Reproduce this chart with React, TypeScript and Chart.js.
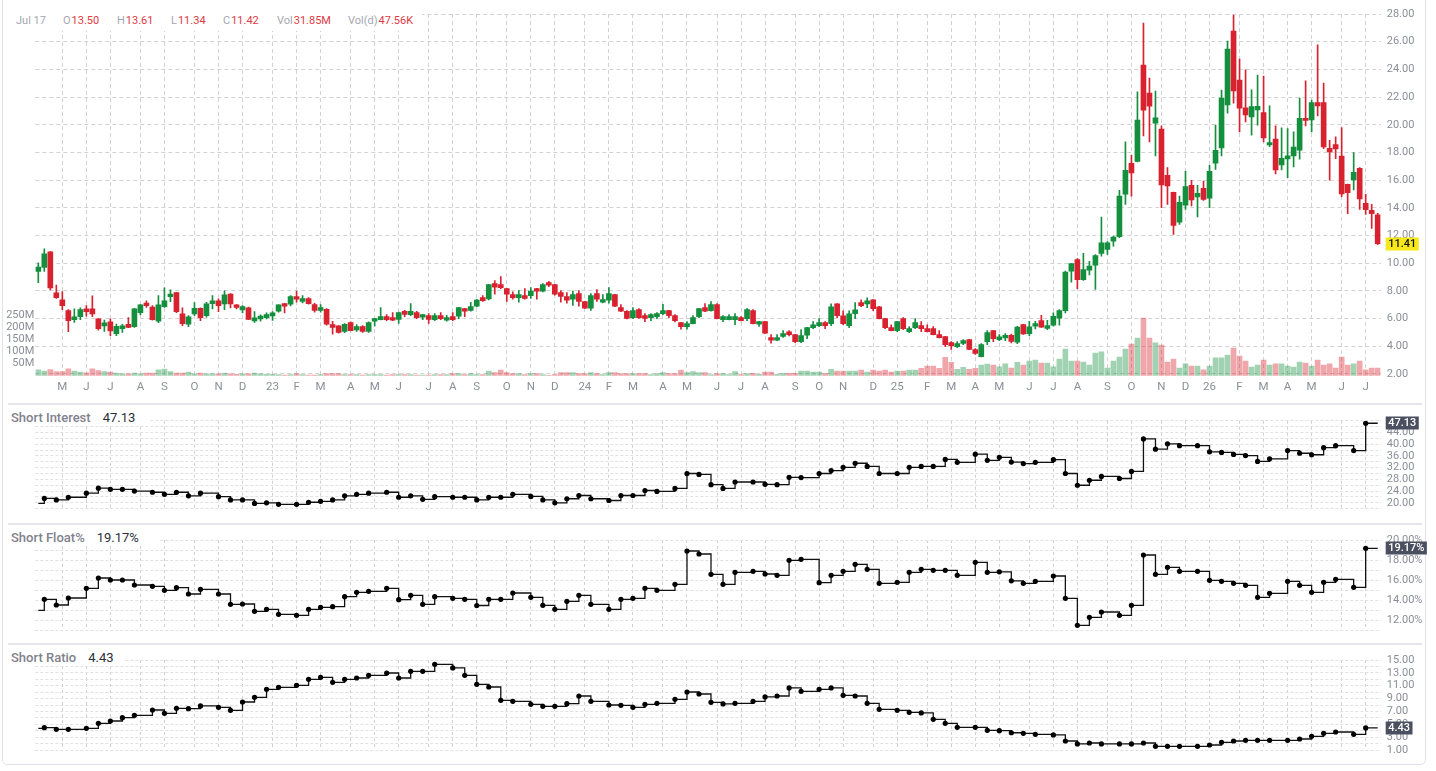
import React, { useEffect, useRef } from 'react';
import { Chart, registerables } from 'chart.js';

Chart.register(...registerables);

const FONT = "Roboto, 'Noto Sans', sans-serif";
Chart.defaults.font.family = FONT;

// ---------- categories (weekly bars, dated by Friday) ----------
const FIRST_WEEK_UTC = Date.UTC(2022, 3, 8);
const WEEK_COUNT = 224;
const WEEKS: string[] = Array.from({ length: WEEK_COUNT }, (_, i) =>
  new Date(FIRST_WEEK_UTC + i * 7 * 86400000).toISOString().slice(0, 10)
);
const MONTH_LETTERS = ['J', 'F', 'M', 'A', 'M', 'J', 'J', 'A', 'S', 'O', 'N', 'D'];

// ---------- price (weekly OHLC) ----------
const OPEN = [
  9.40, 9.69, 10.82, 7.86, 7.35, 6.58, 5.93, 6.14, 6.70, 6.70,
  5.98, 5.47, 5.76, 4.92, 5.28, 5.59, 5.42, 6.43, 7.13, 6.84,
  5.81, 6.87, 7.59, 7.88, 6.34, 5.59, 6.34, 6.75, 6.22, 7.08,
  7.28, 7.06, 7.78, 6.99, 6.63, 6.77, 5.83, 5.98, 6.07, 6.20,
  6.53, 7.08, 7.04, 7.59, 7.25, 7.45, 7.01, 6.60, 6.67, 5.57,
  5.47, 5.08, 5.71, 5.18, 5.42, 5.08, 5.81, 5.93, 6.14, 6.07,
  5.95, 6.53, 6.29, 6.43, 6.10, 6.22, 5.93, 6.22, 5.88, 6.14,
  6.17, 6.72, 6.60, 6.89, 7.52, 7.42, 8.53, 8.46, 8.17, 7.73,
  7.52, 7.66, 7.66, 8.17, 7.98, 8.60, 8.46, 7.88, 7.59, 7.40,
  7.81, 7.23, 6.75, 7.81, 7.18, 7.33, 7.73, 6.80, 6.53, 6.07,
  6.65, 6.22, 6.07, 6.14, 6.36, 6.58, 6.22, 5.71, 5.42, 5.64,
  6.14, 6.80, 6.58, 7.01, 5.93, 5.93, 5.93, 6.07, 6.00, 6.58,
  5.59, 5.78, 4.63, 4.44, 4.72, 5.04, 4.84, 4.34, 4.80, 5.35,
  5.49, 5.71, 5.64, 7.07, 6.21, 5.49, 6.35, 7.15, 7.07, 7.36,
  6.86, 6.00, 5.35, 5.13, 6.00, 5.06, 5.35, 5.49, 5.28, 5.28,
  4.84, 4.70, 4.27, 3.98, 4.20, 4.48, 3.77, 3.26, 4.34, 5.13,
  4.48, 4.60, 4.80, 4.29, 5.57, 4.92, 5.45, 5.86, 5.30, 5.52,
  6.03, 6.58, 9.43, 10.27, 8.82, 9.50, 9.86, 10.71, 11.00, 11.60,
  11.91, 14.98, 17.22, 17.36, 24.31, 22.28, 20.11, 19.68, 16.35, 15.12,
  12.97, 14.20, 15.63, 14.78, 15.41, 14.69, 17.22, 18.33, 21.44, 26.77,
  23.22, 21.22, 20.57, 21.08, 20.88, 18.55, 18.96, 17.10, 17.53, 17.75,
  18.16, 20.47, 20.35, 21.61, 21.61, 18.30, 18.57, 17.73, 15.70, 16.01,
  16.86, 14.32, 13.82, 13.50,
];
const HIGH = [
  10.02, 11.04, 10.85, 8.43, 7.95, 6.65, 6.70, 6.77, 6.94, 7.64,
  6.00, 5.90, 5.98, 5.61, 5.59, 6.07, 6.75, 7.04, 7.28, 6.94,
  7.66, 8.22, 8.07, 7.90, 6.77, 6.22, 7.16, 6.77, 7.18, 7.66,
  7.42, 8.00, 7.80, 7.01, 6.94, 6.84, 6.51, 6.27, 6.41, 6.50,
  7.01, 7.10, 7.66, 7.98, 7.66, 7.52, 7.11, 7.01, 6.72, 5.81,
  5.49, 5.64, 5.76, 5.57, 5.49, 5.76, 6.02, 6.80, 6.29, 6.43,
  6.48, 6.60, 7.08, 6.53, 6.31, 6.36, 6.36, 6.43, 6.24, 6.43,
  6.82, 6.74, 7.18, 7.40, 7.66, 8.48, 8.75, 9.04, 8.19, 7.93,
  8.02, 8.17, 8.24, 8.19, 8.53, 8.70, 8.48, 8.02, 7.88, 7.98,
  8.02, 7.25, 7.81, 8.10, 7.73, 8.24, 7.75, 7.01, 6.58, 6.80,
  6.72, 6.36, 6.36, 6.43, 7.04, 6.60, 6.29, 5.73, 5.78, 6.22,
  6.74, 7.08, 7.23, 7.08, 6.22, 6.29, 6.36, 6.14, 6.72, 6.65,
  5.80, 5.80, 4.84, 4.84, 5.13, 5.13, 4.86, 5.20, 5.37, 5.78,
  6.00, 5.78, 7.07, 7.09, 6.57, 6.57, 7.15, 7.36, 7.51, 7.38,
  6.88, 6.02, 5.56, 5.80, 6.07, 5.42, 6.00, 5.78, 5.56, 5.42,
  5.13, 4.72, 4.34, 4.34, 4.48, 4.50, 3.84, 4.20, 5.13, 5.15,
  4.84, 4.92, 4.89, 5.45, 5.59, 5.81, 5.81, 6.24, 5.88, 6.41,
  6.65, 9.43, 9.98, 10.34, 10.71, 10.13, 10.63, 13.33, 11.57, 11.96,
  15.26, 18.76, 17.80, 22.38, 27.35, 23.37, 22.43, 19.92, 16.90, 15.14,
  14.85, 16.64, 15.99, 15.63, 15.94, 17.07, 19.97, 22.50, 26.05, 27.93,
  24.74, 23.97, 22.52, 23.59, 23.51, 21.37, 19.92, 19.78, 19.73, 19.49,
  21.92, 23.18, 21.78, 25.78, 23.01, 18.88, 19.12, 19.80, 15.72, 17.99,
  16.90, 14.98, 14.25, 13.61,
];
const LOW = [
  8.60, 9.40, 8.07, 7.45, 6.65, 5.06, 5.73, 5.93, 6.17, 6.14,
  5.16, 5.08, 4.77, 4.77, 5.01, 5.35, 5.37, 6.27, 6.80, 5.88,
  5.71, 6.80, 7.23, 6.43, 5.49, 5.42, 6.22, 5.86, 6.10, 6.70,
  6.51, 6.65, 6.77, 6.70, 6.41, 5.93, 5.73, 5.81, 5.98, 5.87,
  6.46, 6.41, 6.92, 7.18, 7.13, 7.04, 6.46, 6.46, 5.52, 4.87,
  4.94, 4.99, 5.11, 5.08, 5.01, 5.01, 5.45, 5.91, 5.86, 5.86,
  5.66, 6.14, 6.22, 6.00, 5.93, 5.66, 5.86, 5.93, 5.81, 5.86,
  6.00, 6.14, 6.53, 6.84, 7.25, 7.35, 7.76, 8.17, 7.25, 7.40,
  7.18, 7.40, 7.45, 7.40, 7.93, 8.31, 7.69, 7.18, 7.11, 6.96,
  6.89, 6.73, 6.60, 7.25, 7.13, 7.11, 6.87, 6.51, 5.98, 6.00,
  6.02, 5.78, 5.86, 6.00, 6.29, 6.07, 5.76, 5.23, 5.23, 5.62,
  6.07, 6.51, 6.53, 5.98, 5.78, 5.91, 5.57, 5.84, 5.86, 5.62,
  5.44, 4.92, 4.22, 4.41, 4.65, 4.75, 4.27, 4.27, 4.56, 5.28,
  5.42, 5.28, 5.49, 6.07, 5.56, 5.35, 6.00, 6.86, 6.79, 6.57,
  5.98, 5.28, 5.11, 5.06, 5.20, 4.99, 5.28, 5.06, 5.04, 4.82,
  4.61, 3.98, 3.77, 3.91, 4.12, 3.75, 3.41, 3.24, 4.12, 4.34,
  4.41, 4.41, 4.24, 4.19, 4.85, 4.77, 5.26, 5.36, 5.21, 5.45,
  5.52, 6.41, 8.63, 8.17, 8.75, 9.16, 8.10, 10.51, 10.63, 11.24,
  11.84, 14.25, 14.85, 17.31, 19.20, 18.76, 17.75, 14.01, 14.25, 12.08,
  12.80, 13.89, 14.13, 13.34, 14.54, 14.01, 16.78, 17.75, 20.84, 21.56,
  19.49, 20.21, 19.24, 19.97, 18.76, 18.42, 16.45, 16.74, 16.18, 16.95,
  17.51, 19.92, 19.49, 20.64, 18.28, 15.99, 17.56, 14.81, 13.58, 15.29,
  13.89, 13.53, 12.52, 11.34,
];
const CLOSE = [
  9.73, 10.67, 8.22, 7.52, 6.94, 5.86, 6.12, 6.65, 6.51, 6.34,
  5.28, 5.69, 5.11, 5.45, 5.47, 5.37, 6.70, 6.99, 6.94, 5.93,
  6.99, 7.28, 7.78, 6.51, 5.64, 6.12, 6.75, 6.07, 7.06, 7.28,
  6.94, 7.71, 7.06, 6.80, 6.87, 5.95, 6.05, 6.19, 6.29, 6.42,
  6.99, 6.89, 7.59, 7.40, 7.45, 7.08, 6.60, 6.80, 5.59, 5.37,
  5.01, 5.59, 5.13, 5.42, 5.08, 5.71, 6.00, 6.14, 5.93, 5.88,
  6.43, 6.31, 6.53, 6.07, 6.29, 5.95, 6.22, 6.00, 6.07, 5.93,
  6.80, 6.53, 6.87, 7.33, 7.30, 8.46, 8.27, 8.24, 7.76, 7.52,
  7.73, 7.45, 7.98, 7.98, 8.46, 8.41, 7.76, 7.61, 7.33, 7.73,
  7.25, 6.75, 7.66, 7.40, 7.37, 7.81, 6.89, 6.53, 6.02, 6.58,
  6.07, 6.02, 6.29, 6.36, 6.58, 6.22, 5.86, 5.42, 5.64, 6.07,
  6.72, 6.53, 7.01, 6.00, 6.14, 6.14, 6.14, 5.86, 6.65, 5.64,
  5.78, 4.94, 4.44, 4.63, 4.92, 4.84, 4.34, 4.77, 5.35, 5.56,
  5.71, 5.49, 6.86, 6.21, 5.64, 6.35, 6.64, 6.93, 7.29, 6.71,
  6.00, 5.35, 5.13, 5.78, 5.28, 5.28, 5.71, 5.28, 5.06, 4.84,
  4.63, 4.12, 4.05, 4.20, 4.41, 3.77, 3.48, 4.12, 4.99, 4.56,
  4.68, 4.80, 4.36, 5.38, 4.89, 5.40, 5.64, 5.38, 5.50, 6.17,
  6.58, 9.36, 9.98, 8.82, 9.55, 9.79, 10.56, 11.48, 11.48, 11.89,
  14.85, 16.71, 16.52, 20.33, 21.05, 21.34, 20.50, 15.65, 15.58, 12.73,
  14.40, 15.53, 14.57, 15.05, 14.61, 16.64, 18.16, 21.92, 25.47, 22.45,
  21.20, 20.72, 21.32, 21.34, 19.05, 18.71, 16.74, 17.58, 17.75, 18.38,
  20.47, 20.31, 21.61, 21.37, 18.40, 18.04, 18.26, 15.00, 15.10, 16.57,
  14.64, 13.87, 13.58, 11.42,
];
// weekly volume, millions
const VOLUME = [
  24, 19, 26, 17, 17, 29, 19, 15, 12, 29, 21, 17, 15, 11, 8, 8, 11, 8, 11, 11,
  24, 28, 17, 11, 11, 15, 8, 11, 8, 8, 8, 11, 8, 6, 8, 8, 11, 8, 6, 6,
  5, 3, 5, 9, 5, 3, 3, 5, 9, 9, 9, 5, 5, 5, 3, 5, 5, 5, 3, 5,
  5, 5, 5, 3, 3, 3, 5, 5, 5, 9, 9, 5, 9, 5, 5, 19, 13, 23, 13, 9,
  9, 5, 9, 9, 5, 2, 5, 13, 13, 13, 9, 9, 13, 9, 5, 13, 13, 9, 9, 9,
  9, 9, 5, 9, 13, 9, 9, 23, 13, 17, 13, 13, 5, 9, 9, 5, 17, 5, 9, 10,
  6, 15, 15, 6, 10, 10, 10, 19, 19, 15, 15, 10, 27, 19, 19, 19, 19, 23, 15, 23,
  19, 23, 15, 19, 19, 23, 23, 31, 40, 40, 31, 77, 56, 27, 35, 27, 31, 44, 48, 44,
  37, 49, 32, 56, 44, 61, 65, 53, 53, 37, 69, 111, 61, 61, 57, 44, 94, 99, 32, 61,
  78, 111, 132, 157, 240, 157, 137, 128, 57, 69, 32, 49, 40, 40, 24, 40, 74, 74, 86, 115,
  82, 61, 36, 44, 65, 44, 49, 49, 40, 36, 57, 53, 40, 65, 44, 49, 32, 78, 44, 49,
  61, 24, 32, 32,
];
const LAST_PRICE_LABEL = 11.41;

// ---------- short data (report weeks = index into WEEKS) ----------
const SHORT_WEEKS = [
  1, 3, 5, 8, 10, 12, 14, 16, 19, 21, 23, 25, 27, 30, 32, 34, 36, 38, 40, 43,
  45, 47, 49, 51, 53, 55, 58, 60, 62, 64, 66, 69, 71, 73, 75, 77, 79, 82, 84, 86,
  88, 90, 92, 95, 97, 99, 101, 103, 106, 108, 110, 112, 114, 116, 119, 121, 123, 125, 127, 130,
  132, 134, 136, 138, 140, 143, 145, 147, 149, 151, 153, 156, 158, 160, 162, 164, 166, 169, 171, 173,
  175, 177, 180, 182, 184, 186, 188, 190, 193, 195, 197, 199, 201, 203, 205, 208, 210, 212, 214, 216,
  219, 221,
];
const SHORT_INTEREST = [
  21.5, 21.0, 21.9, 23.3, 25.0, 24.6, 24.6, 24.0, 23.6, 22.9, 23.6, 22.4, 23.3, 22.1, 21.0, 21.0, 19.8, 20.0, 19.5, 19.5,
  20.2, 20.5, 21.0, 22.4, 22.9, 23.3, 23.6, 21.9, 22.4, 21.2, 22.1, 21.9, 21.9, 21.0, 21.9, 21.9, 22.9, 22.2, 21.0, 20.0,
  21.4, 22.5, 21.4, 20.8, 22.5, 22.5, 24.2, 23.9, 24.9, 30.0, 29.7, 26.2, 24.9, 27.1, 27.1, 26.3, 26.2, 28.7, 28.6, 30.0,
  31.0, 32.1, 33.5, 32.4, 30.0, 30.0, 32.1, 32.4, 32.4, 34.8, 33.8, 36.6, 34.5, 35.5, 33.9, 33.4, 33.8, 34.7, 30.0, 26.0,
  27.7, 29.0, 28.3, 30.7, 41.8, 38.3, 40.1, 39.5, 39.5, 37.4, 37.2, 36.5, 36.1, 34.1, 35.0, 37.8, 36.9, 36.4, 38.8, 39.5,
  37.8, 47.13,
];
const SHORT_FLOAT = [
  14.07, 13.5, 14.2, 15.17, 16.2, 16.0, 16.0, 15.5, 15.37, 14.97, 15.23, 14.6, 15.07, 14.6, 13.57, 13.6, 12.87, 13.07, 12.57, 12.47,
  13.07, 13.27, 13.33, 14.33, 14.77, 14.87, 15.17, 14.03, 14.47, 13.57, 14.33, 14.17, 14.07, 13.45, 14.07, 14.07, 14.7, 14.27, 13.47, 13.07,
  13.87, 14.47, 13.57, 13.07, 14.07, 14.17, 15.17, 14.97, 15.57, 18.9, 18.6, 16.57, 15.57, 16.77, 16.87, 16.6, 16.47, 17.97, 18.07, 15.73,
  16.47, 16.87, 17.57, 17.07, 15.67, 15.77, 16.77, 17.07, 16.97, 16.97, 16.47, 17.77, 16.77, 16.82, 15.92, 15.67, 15.87, 16.4, 14.17, 11.47,
  12.27, 12.8, 12.47, 13.47, 18.5, 16.57, 17.27, 16.87, 16.87, 15.97, 15.87, 15.67, 15.47, 14.27, 14.67, 15.87, 15.47, 14.77, 15.77, 16.07,
  15.27, 19.17,
];
const SHORT_RATIO = [
  4.48, 4.22, 4.22, 4.37, 5.15, 5.51, 6.03, 6.39, 7.22, 6.71, 7.48, 7.43, 7.85, 7.64, 7.17, 8.47, 9.19, 10.44, 10.75, 11.06,
  11.99, 12.3, 11.53, 11.99, 12.2, 12.62, 12.98, 12.2, 13.24, 13.24, 14.33, 13.76, 12.62, 11.22, 10.8, 8.73, 8.57, 8.11, 7.79, 7.79,
  8.21, 9.4, 8.57, 8.0, 7.95, 7.64, 8.11, 8.26, 8.88, 10.02, 9.71, 8.42, 8.16, 8.26, 8.57, 9.25, 9.4, 10.65, 10.13, 10.44,
  10.65, 9.5, 9.4, 8.26, 7.33, 7.17, 6.86, 6.76, 5.77, 5.15, 4.53, 4.53, 4.06, 4.0, 3.68, 3.6, 3.44, 3.34, 2.4, 1.94,
  2.09, 1.94, 1.94, 1.94, 2.09, 1.57, 1.57, 1.57, 1.57, 1.78, 2.2, 2.4, 2.51, 2.51, 2.51, 2.51, 2.71, 3.13, 3.6, 3.8,
  3.44, 4.43,
];
// level of each line before its first report in view
const SI_BEFORE = 19.8;
const SF_BEFORE = 12.97;
const SR_BEFORE = 4.37;

// ---------- axis ticks ----------
const PRICE_TICKS = [2, 4, 6, 8, 10, 12, 14, 16, 18, 20, 22, 24, 26, 28];
const VOL_TICKS = [50, 100, 150, 200, 250];
const SI_GRID = [18, 20, 22, 24, 26, 28, 30, 32, 34, 36, 38, 40, 42, 44, 46, 48];
const SI_LABELS = [20, 24, 28, 32, 36, 40, 44];
const SF_GRID = [11, 12, 13, 14, 15, 16, 17, 18, 19, 20];
const SF_LABELS = [12, 14, 16, 18, 20];
const SR_GRID = [1, 2, 3, 4, 5, 6, 7, 8, 9, 10, 11, 12, 13, 14, 15];
const SR_LABELS = [1, 3, 5, 7, 9, 11, 13, 15];

// ---------- styling ----------
const UP = '#138f3e';
const DOWN = '#d9222f';
const VOL_UP = 'rgba(19,143,62,0.4)';
const VOL_DOWN = 'rgba(217,34,47,0.4)';
const TICK_COLOR = '#8b8e97';
const PLOT_LEFT = 35.3;
const RIGHT_AXIS_W = 55.3;
const W = 1436;

function isMonthStart(i: number) {
  const d = new Date(WEEKS[i] + 'T00:00:00Z');
  return d.getUTCDate() <= 7;
}
function monthLabel(i: number) {
  const d = new Date(WEEKS[i] + 'T00:00:00Z');
  if (d.getUTCDate() > 7) return '';
  const m = d.getUTCMonth();
  return m === 0 ? String(d.getUTCFullYear() % 100) : MONTH_LETTERS[m];
}

function valueBox(id: string, scaleId: string, value: number, text: string, bg: string, fg: string) {
  return {
    id,
    afterDraw(chart: any) {
      const s = chart.scales[scaleId];
      const y = s.getPixelForValue(value);
      const ctx = chart.ctx;
      ctx.save();
      ctx.font = `500 11px ${FONT}`;
      const w = ctx.measureText(text).width + 5;
      const x = chart.chartArea.right + 5;
      ctx.fillStyle = bg;
      ctx.fillRect(x, Math.round(y) - 6.5, w, 13);
      ctx.fillStyle = fg;
      ctx.textBaseline = 'middle';
      ctx.textAlign = 'left';
      ctx.fillText(text, x + 2.5, Math.round(y) + 0.5);
      ctx.restore();
    },
  };
}

function xScale(showLabels: boolean, color: string, dash: number[]) {
  return {
    type: 'category',
    offset: true,
    grid: {
      offset: false,
      drawTicks: false,
      color: (c: any) => (isMonthStart(c.index) ? color : 'rgba(0,0,0,0)'),
      lineWidth: 1,
    },
    border: { display: false, dash },
    ticks: showLabels
      ? {
          autoSkip: false,
          maxRotation: 0,
          minRotation: 0,
          padding: 5,
          color: TICK_COLOR,
          font: { size: 11.5 },
          callback: (_v: any, i: number) => monthLabel(i),
        }
      : { display: false },
    afterFit: (s: any) => {
      s.height = showLabels ? 400 - 375.7 : 0;
    },
  };
}

function shortSeries(values: number[], before: number) {
  const arr: (number | null)[] = new Array(WEEK_COUNT).fill(null);
  arr[0] = before;
  SHORT_WEEKS.forEach((w, k) => {
    arr[w] = values[k];
  });
  arr[WEEK_COUNT - 1] = values[values.length - 1];
  return arr;
}

function shortConfig(
  values: number[],
  before: number,
  min: number,
  max: number,
  grid: number[],
  labels: number[],
  fmt: (v: number) => string,
  padTop: number,
  padBottom: number,
  boxId: string
) {
  const last = values[values.length - 1];
  return {
    type: 'line',
    data: {
      labels: WEEKS,
      datasets: [
        {
          data: shortSeries(values, before),
          stepped: 'before',
          spanGaps: true,
          borderColor: '#111',
          borderWidth: 1.3,
          pointRadius: (c: any) => (c.dataIndex === 0 || c.dataIndex === WEEK_COUNT - 1 ? 0 : 2.6),
          pointBackgroundColor: '#000',
          pointBorderWidth: 0,
          pointHoverRadius: 0,
        },
      ],
    },
    options: {
      animation: false,
      responsive: false,
      events: [],
      layout: { padding: { left: PLOT_LEFT, right: 0, top: padTop, bottom: padBottom } },
      plugins: { legend: { display: false }, tooltip: { enabled: false } },
      scales: {
        x: xScale(false, '#d0d0d0', [3, 3]),
        y: {
          position: 'right',
          min,
          max,
          afterBuildTicks: (s: any) => {
            s.ticks = grid.map((v) => ({ value: v }));
          },
          afterFit: (s: any) => {
            s.width = RIGHT_AXIS_W;
          },
          grid: { color: '#e1e1e1', drawTicks: false },
          border: { display: false, dash: [3, 2] },
          ticks: {
            autoSkip: false,
            padding: 6,
            color: TICK_COLOR,
            font: { size: 11 },
            callback: (v: number) => (labels.includes(v) ? fmt(v) : ''),
          },
        },
      },
    },
    plugins: [valueBox(boxId, 'y', last, fmt(last), '#4b5060', '#ffffff')],
  };
}

function priceConfig() {
  const up = CLOSE.map((c, i) => c >= OPEN[i]);
  return {
    type: 'bar',
    data: {
      labels: WEEKS,
      datasets: [
        {
          label: 'Volume',
          data: VOLUME,
          yAxisID: 'vol',
          backgroundColor: up.map((u) => (u ? VOL_UP : VOL_DOWN)),
          barThickness: 5,
          grouped: false,
          order: 3,
        },
        {
          label: 'Range',
          data: LOW.map((l, i) => [l, HIGH[i]]),
          yAxisID: 'price',
          backgroundColor: up.map((u) => (u ? UP : DOWN)),
          barThickness: 1,
          grouped: false,
          order: 2,
        },
        {
          label: 'Body',
          data: OPEN.map((o, i) => [o, CLOSE[i]]),
          yAxisID: 'price',
          backgroundColor: up.map((u) => (u ? UP : DOWN)),
          barThickness: 5,
          grouped: false,
          minBarLength: 1,
          order: 1,
        },
      ],
    },
    options: {
      animation: false,
      responsive: false,
      events: [],
      layout: { padding: { left: 0, right: 0, top: 14, bottom: 0 } },
      plugins: { legend: { display: false }, tooltip: { enabled: false } },
      scales: {
        x: xScale(true, '#d2d2d2', [4, 3]),
        price: {
          position: 'right',
          min: 1.877,
          max: 28,
          afterBuildTicks: (s: any) => {
            s.ticks = PRICE_TICKS.map((v) => ({ value: v }));
          },
          afterFit: (s: any) => {
            s.width = RIGHT_AXIS_W;
          },
          grid: { color: '#d2d2d2', drawTicks: false },
          border: { display: false, dash: [4, 3] },
          ticks: {
            autoSkip: false,
            padding: 6,
            color: TICK_COLOR,
            font: { size: 11 },
            callback: (v: number) => v.toFixed(2),
          },
        },
        vol: {
          position: 'left',
          min: 0,
          max: 1507,
          afterBuildTicks: (s: any) => {
            s.ticks = VOL_TICKS.map((v) => ({ value: v }));
          },
          afterFit: (s: any) => {
            s.width = PLOT_LEFT;
          },
          grid: { display: false, drawTicks: false },
          border: { display: false },
          ticks: {
            autoSkip: false,
            padding: 1,
            color: TICK_COLOR,
            font: { size: 11 },
            callback: (v: number) => `${v}M`,
          },
        },
      },
    },
    plugins: [valueBox('lastPrice', 'price', LAST_PRICE_LABEL, LAST_PRICE_LABEL.toFixed(2), '#f6e81a', '#111111')],
  };
}

function ChartCanvas({ make, top, height }: { make: () => any; top: number; height: number }) {
  const ref = useRef<HTMLCanvasElement | null>(null);
  useEffect(() => {
    if (!ref.current) return;
    const chart = new Chart(ref.current, make());
    return () => chart.destroy();
  }, []);
  return (
    <canvas
      ref={ref}
      width={W}
      height={height}
      style={{ position: 'absolute', left: 0, top, width: W, height }}
    />
  );
}

const headerItems: { left: number; label: string; value: string }[] = [
  { left: 63, label: 'O', value: '13.50' },
  { left: 117, label: 'H', value: '13.61' },
  { left: 171, label: 'L', value: '11.34' },
  { left: 223, label: 'C', value: '11.42' },
  { left: 277, label: 'Vol', value: '31.85M' },
  { left: 348, label: 'Vol(d)', value: '47.56K' },
];

function PanelTitle({ top, title, value, width }: { top: number; title: string; value: string; width: number }) {
  return (
    <div
      style={{
        position: 'absolute',
        left: 8,
        top,
        width,
        height: 18,
        background: '#fff',
        display: 'flex',
        alignItems: 'center',
        fontFamily: FONT,
        fontSize: 13,
        whiteSpace: 'nowrap',
      }}
    >
      <span style={{ marginLeft: 3, color: '#7f828b', fontWeight: 500 }}>{title}</span>
      <span style={{ marginLeft: 12, color: '#2a2e39' }}>{value}</span>
    </div>
  );
}

export default function App() {
  useEffect(() => {
    document.body.style.margin = '0';
    document.body.style.background = '#fff';
  }, []);
  return (
    <div style={{ position: 'fixed', left: 0, top: 0, width: W, height: 771, overflow: 'hidden', background: '#fff' }}>
      <div
        style={{
          position: 'absolute',
          left: 2,
          top: -6,
          width: 1424,
          height: 771,
          border: '1px solid #dfe2ea',
          borderRadius: 5,
          boxSizing: 'border-box',
        }}
      />
      <ChartCanvas make={priceConfig} top={0} height={400} />
      {[403, 523, 643].map((y) => (
        <div key={y} style={{ position: 'absolute', left: 8, top: y, width: 1414, height: 2, background: '#e3e5eb' }} />
      ))}
      <ChartCanvas
        make={() =>
          shortConfig(SHORT_INTEREST, SI_BEFORE, 18, 48, SI_GRID, SI_LABELS, (v) => v.toFixed(2), 15.7, 14.3, 'siBox')
        }
        top={405}
        height={118}
      />
      <ChartCanvas
        make={() =>
          shortConfig(SHORT_FLOAT, SF_BEFORE, 11, 20, SF_GRID, SF_LABELS, (v) => v.toFixed(2) + '%', 15, 13, 'sfBox')
        }
        top={525}
        height={118}
      />
      <ChartCanvas
        make={() =>
          shortConfig(SHORT_RATIO, SR_BEFORE, 1, 15, SR_GRID, SR_LABELS, (v) => v.toFixed(2), 15, 13, 'srBox')
        }
        top={645}
        height={118}
      />
      <div
        style={{
          position: 'absolute',
          left: 10,
          top: 11,
          width: 412,
          height: 20,
          background: '#fff',
          fontFamily: FONT,
          fontSize: 11,
        }}
      >
        <span style={{ position: 'absolute', left: 6, top: 3, color: '#a4a7b0' }}>Jul 17</span>
        {headerItems.map((h) => (
          <span key={h.label} style={{ position: 'absolute', left: h.left - 10, top: 3, whiteSpace: 'nowrap' }}>
            <span style={{ color: '#a4a7b0' }}>{h.label}</span>
            <span style={{ color: '#e03a44', marginLeft: 1 }}>{h.value}</span>
          </span>
        ))}
      </div>
      <PanelTitle top={408} title="Short Interest" value="47.13" width={142} />
      <PanelTitle top={528} title="Short Float%" value="19.17%" width={150} />
      <PanelTitle top={648} title="Short Ratio" value="4.43" width={117} />
    </div>
  );
}
